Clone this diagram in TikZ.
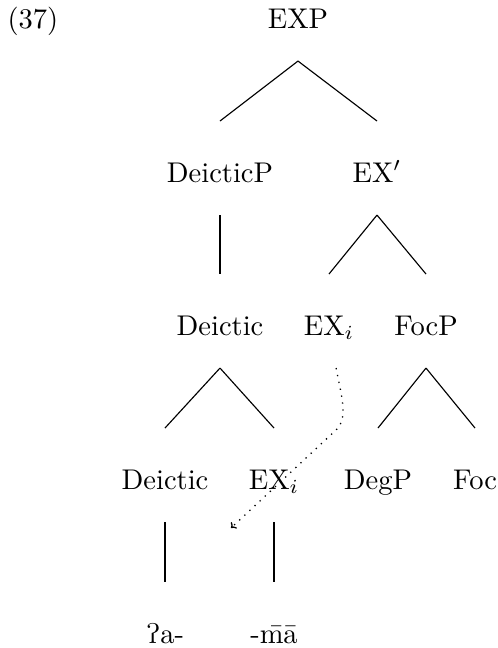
\documentclass[tikz,border=0pt]{standalone}
\usepackage{tipa}
\usetikzlibrary{arrows.meta}
\tikzset{
  lab/.style={anchor=base, inner xsep=0pt, inner ysep=9.1pt, outer sep=0pt,
              text height=12.3pt, text depth=2.5pt},
  branch/.style={line width=0.4pt},
  movearrow/.style={dotted, line width=0.45pt, -{To[length=1.6pt,width=3pt]}}
}
\begin{document}
\begin{tikzpicture}[x=0.3509pt, y=-0.3509pt]
\useasboundingbox (0,0) rectangle (498,648);
\node[anchor=base west, inner sep=0pt] (num) at (7,28) {(37)};
% level 0
\node[lab] (exp) at (298,28) {EXP};
% level 1
\node[lab] (deicticp) at (220,182) {DeicticP};
\node[lab] (exbar) at (377,182) {EX$'$};
% level 2
\node[lab] (deictic) at (220,335) {Deictic};
\node[lab] (exi) at (329,335) {EX$_i$};
\node[lab] (focp) at (426,335) {FocP};
% level 3
\node[lab] (deictictwo) at (165,489) {Deictic};
\node[lab] (exitwo) at (274,489) {EX$_i$};
\node[lab] (degp) at (378,489) {DegP};
\node[lab] (foc) at (475,489) {Foc};
% level 4
\node[lab] (glot) at (165,643) {\textglotstop a-};
\node[lab] (ma) at (274,643) {-\=m\=a};
% branches
\draw[branch] (exp.south) -- (deicticp.north);
\draw[branch] (exp.south) -- (exbar.north);
\draw[branch] (deicticp.south) -- (deictic.north);
\draw[branch] (exbar.south) -- (exi.north);
\draw[branch] (exbar.south) -- (focp.north);
\draw[branch] (deictic.south) -- (deictictwo.north);
\draw[branch] (deictic.south) -- (exitwo.north);
\draw[branch] (focp.south) -- (degp.north);
\draw[branch] (focp.south) -- (foc.north);
\draw[branch] (deictictwo.south) -- (glot.north);
\draw[branch] (exitwo.south) -- (ma.north);
% movement arrow
\coordinate (knee) at (336,430);
\coordinate (trace) at (231,528);
\draw[movearrow] ([xshift=2.5pt]exi.south) .. controls (341,395) and (349,418) .. (knee) -- (trace);
\end{tikzpicture}
\end{document}
